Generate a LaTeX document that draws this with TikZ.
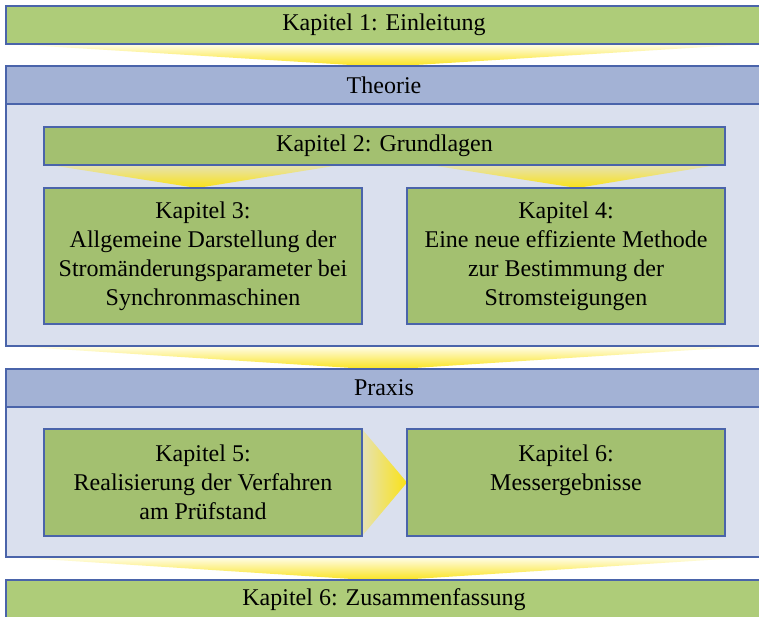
\documentclass[tikz,border=0pt]{standalone}
\usepackage{fontspec}
\setmainfont{Liberation Serif}
\definecolor{edge}{HTML}{4A64AA}
\definecolor{bargreen}{HTML}{AECC79}
\definecolor{boxgreen}{HTML}{A3C070}
\definecolor{headblue}{HTML}{A3B2D5}
\definecolor{bodyblue}{HTML}{DAE0EE}
\definecolor{flowyellow}{HTML}{FAE215}
\definecolor{paleyellow}{HTML}{FFFDEB}
\definecolor{fadeyellow}{HTML}{E6E2B4}
\pgfdeclarelayer{wedges}
\pgfdeclarelayer{frames}
\pgfdeclarelayer{inner}
\pgfsetlayers{wedges,frames,inner,main}
\begin{document}
\begin{tikzpicture}[x=1pt,y=-1pt,
  panel/.style={draw=edge, line width=1.6pt, inner sep=0pt, outer sep=0pt,
    anchor=north west, align=center, font=\fontsize{24}{29}\selectfont},
  outerbar/.style={panel, fill=bargreen, minimum width=756pt, minimum height=38pt},
  header/.style={panel, fill=headblue, minimum width=756pt, minimum height=38pt},
  body/.style={panel, fill=bodyblue, minimum width=756pt},
  chapter/.style={panel, fill=boxgreen, minimum width=318pt},
  bigflow/.style={top color=paleyellow, bottom color=flowyellow},
  smallflow/.style={top color=fadeyellow, bottom color=flowyellow},
  sideflow/.style={left color=fadeyellow, right color=flowyellow}]
\useasboundingbox (0,0) rectangle (759,617);
\begin{pgfonlayer}{wedges}
  \fill[white] (0,0) rectangle (759,617);
\end{pgfonlayer}

% main blocks
\begin{pgfonlayer}{frames}
  \node[outerbar] (k1) at (6,6) {Kapitel 1: Einleitung};
  \node[body, minimum height=242pt] (thbody) at (6,104) {};
  \node[header] (th) at (6,66) {Theorie};
  \node[body, minimum height=150pt] (prbody) at (6,407) {};
  \node[header] (pr) at (6,369) {Praxis};
  \node[outerbar, minimum height=40pt] (k7) at (6,580) {Kapitel 6: Zusammenfassung};
\end{pgfonlayer}

% chapters
\node[panel, fill=boxgreen, minimum width=681pt, minimum height=38pt] (k2) at (44,127) {Kapitel 2: Grundlagen};
\node[chapter, minimum height=136pt] (k3) at (44,188)
  {Kapitel 3:\\Allgemeine Darstellung der\\Stromänderungsparameter bei\\Synchronmaschinen};
\node[chapter, minimum height=136pt] (k4) at (407,188)
  {Kapitel 4:\\Eine neue effiziente Methode\\zur Bestimmung der\\Stromsteigungen};
\node[chapter, minimum height=107pt] (k5) at (44,429)
  {Kapitel 5:\\Realisierung der Verfahren\\am Prüfstand};
\node[chapter, minimum height=107pt] (k6) at (407,429)
  {Kapitel 6:\\Messergebnisse\\\mbox{}};

% flow wedges between the main blocks
\begin{pgfonlayer}{wedges}
  \shade[bigflow] ([xshift=4pt]k1.south west) -- ([xshift=-8pt]k1.south east)
    -- ([xshift=-1pt,yshift=-1pt]th.north) -- cycle;
  \shade[bigflow] ([xshift=4pt]thbody.south west) -- ([xshift=-8pt]thbody.south east)
    -- ([xshift=-1pt,yshift=-1pt]pr.north) -- cycle;
  \shade[bigflow] ([xshift=4pt]prbody.south west) -- ([xshift=-8pt]prbody.south east)
    -- ([xshift=-1pt,yshift=-1pt]k7.north) -- cycle;
\end{pgfonlayer}

% flow wedges inside the parts
\begin{pgfonlayer}{inner}
  \shade[smallflow] ([xshift=6pt]k2.south west) -- ([xshift=296pt]k2.south west)
    -- ([xshift=-6pt]k3.north) -- cycle;
  \shade[smallflow] ([xshift=-295pt]k2.south east) -- ([xshift=-8pt]k2.south east)
    -- ([xshift=11pt]k4.north) -- cycle;
  \shade[sideflow] (k5.north east) -- (k5.south east) -- (k6.west) -- cycle;
\end{pgfonlayer}
\end{tikzpicture}
\end{document}
